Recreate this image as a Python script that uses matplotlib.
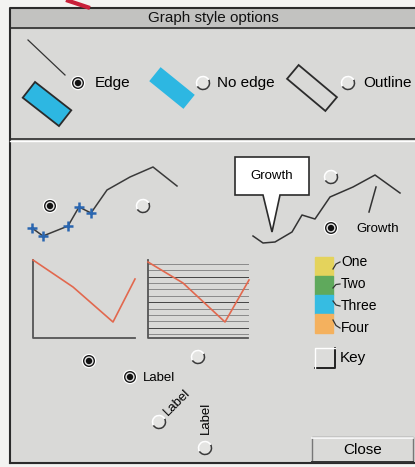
import numpy as np
import matplotlib
matplotlib.use("Agg")
import matplotlib.pyplot as plt
from matplotlib.patches import Rectangle, Polygon, Circle, Arc

plt.rcParams['font.family'] = ['Liberation Sans', 'DejaVu Sans']

# line sample with crosses (pixel coords of the dialog)
cross_x = [32, 43, 68, 79, 91]
cross_y = [228, 236, 226, 207, 213]
line_x = [32, 43, 68, 79, 91, 107, 130, 153, 177]
line_y = [228, 236, 226, 207, 213, 190, 177, 167, 186]

# "Growth" line
growth_x = [253, 263, 275, 292, 302, 315, 330, 353, 375, 400]
growth_y = [236, 243, 242, 232, 215, 219, 197, 187, 175, 193]

# the two small red line charts
red1_x = [33, 73, 113, 135]
red1_y = [260, 287, 322, 279]
red2_x = [148, 183, 225, 249]
red2_y = [262, 283, 322, 280]

key_labels = ['One', 'Two', 'Three', 'Four']
key_colors = ['#e4d35c', '#5fa95c', '#36bce2', '#f4b15e']

W, H = 415, 467
fig = plt.figure(figsize=(W / 100, H / 100), dpi=100)
ax = fig.add_axes([0, 0, 1, 1])
ax.set_xlim(0, W)
ax.set_ylim(H, 0)
ax.axis('off')

BG = '#d9d9d7'
DARK = '#2b2b2b'

# page + window
ax.add_patch(Rectangle((0, 0), W, H, color='#f3f3f1', zorder=0))
ax.add_patch(Rectangle((10, 8), W, 455, color=BG, zorder=0))
ax.add_patch(Rectangle((10, 8), W, 20, color='#c2c2c0', zorder=0))
ax.plot([10, 10, W], [463, 8, 8], color=DARK, lw=1.5)
ax.plot([10, W], [463, 463], color=DARK, lw=1.5)
ax.plot([10, W], [28, 28], color=DARK, lw=1.2)
ax.plot([10, W], [139, 139], color=DARK, lw=1.2)
ax.plot([10, W], [140.5, 140.5], color='white', lw=1)
ax.plot([66, 90], [0, 8], color='#c8203a', lw=3, solid_capstyle='butt')
ax.text(213, 18, 'Graph style options', ha='center', va='center', fontsize=11, color='#111')


def rrect(cx, cy, length, width, ang):
    a = np.radians(ang)
    u = np.array([np.cos(a), np.sin(a)]) * length / 2
    v = np.array([-np.sin(a), np.cos(a)]) * width / 2
    c = np.array([cx, cy])
    return [c - u - v, c + u - v, c + u + v, c - u + v]


def radio(x, y, on):
    if on:
        ax.add_patch(Circle((x, y), 7.2, fc='white', ec='none', zorder=5))
        ax.add_patch(Circle((x, y), 6.0, fc='#1a1a1a', ec='none', zorder=5))
        ax.add_patch(Circle((x, y), 4.6, fc='#e6e6e6', ec='none', zorder=5))
        ax.add_patch(Circle((x, y), 3.2, fc='#111', ec='none', zorder=5))
    else:
        ax.add_patch(Circle((x, y), 6.5, fc='#e4e4e2', ec='none', zorder=5))
        ax.add_patch(Arc((x, y), 13, 13, theta1=-30, theta2=150, color='#3a3a3a', lw=1.1, zorder=6))
        ax.add_patch(Arc((x, y), 13, 13, theta1=150, theta2=330, color='white', lw=1.1, zorder=6))


# top section
ax.plot([28, 65], [40, 75], color='#333', lw=0.9)
ax.add_patch(Polygon(rrect(47, 104, 46, 20, 38), fc='#2db7e2', ec=DARK, lw=1.3))
radio(78, 83, True)
ax.text(95, 83, 'Edge', va='center', fontsize=11)
ax.add_patch(Polygon(rrect(172, 88, 44, 18, 39), fc='#2db7e2', ec='none'))
radio(203, 83, False)
ax.text(217, 83, 'No edge', va='center', fontsize=11)
ax.add_patch(Polygon(rrect(312, 88, 50, 18, 40), fc='none', ec=DARK, lw=1.3))
radio(348, 83, False)
ax.text(363, 83, 'Outline', va='center', fontsize=11)

# line with markers
ax.plot(line_x, line_y, color='#3a3a3a', lw=1.1)
ax.plot(cross_x, cross_y, ls='none', marker='+', ms=6.5, mew=1.8, color='#2a66b0')
radio(50, 206, True)
radio(143, 206, False)

# callout
ax.add_patch(Polygon([(235, 157), (309, 157), (309, 195), (280, 195), (272, 232),
                      (263, 195), (235, 195)], fc='white', ec=DARK, lw=1.2, zorder=3))
ax.text(272, 176, 'Growth', ha='center', va='center', fontsize=9.5, zorder=4)
radio(331, 177, False)
ax.plot(growth_x, growth_y, color='#333', lw=1.1)
ax.plot([376, 369], [187, 212], color='#333', lw=1.1)
radio(331, 228, True)
ax.text(356, 229, 'Growth', va='center', fontsize=9.5)

# small charts
ax.plot([33, 33, 135], [260, 338, 338], color='#555', lw=1.3)
ax.plot(red1_x, red1_y, color='#e2684e', lw=1.2)
for i, gy in enumerate(np.linspace(264, 334, 12)):
    ax.plot([148, 248], [gy, gy], color='#444' if i % 4 == 2 else '#8a8a8a', lw=0.7)
ax.plot([148, 148, 248], [260, 338, 338], color='#555', lw=1.3)
ax.plot(red2_x, red2_y, color='#e2684e', lw=1.2)

# key
kx0, ky0, kh = 315, 257, 19
for i, (lab, col) in enumerate(zip(key_labels, key_colors)):
    top = ky0 + i * kh
    ax.add_patch(Rectangle((kx0, top), 18, kh, color=col))
    ly = 262 + i * 22
    ax.plot([333, 336, 340], [top + 9 + (1 if i < 2 else -1) * 3, (top + 9 + ly) / 2, ly],
            color='#333', lw=0.9)
    ax.text(341, ly, lab, va='center', fontsize=10)

ax.add_patch(Rectangle((315, 348), 20, 20, fc='#dcdcda', ec='none'))
ax.plot([315, 335, 335], [368, 368, 348], color='#222', lw=1.4)
ax.plot([315, 315, 335], [368, 348, 348], color='white', lw=1)
ax.text(340, 358, 'Key', va='center', fontsize=11)

# label placement radios
radio(89, 361, True)
radio(130, 377, True)
ax.text(143, 378, 'Label', va='center', fontsize=9.5)
radio(198, 357, False)
radio(159, 422, False)
ax.text(177, 402, 'Label', ha='center', va='center', rotation=45, fontsize=9.5)
radio(205, 448, False)
ax.text(206, 418, 'Label', ha='center', va='center', rotation=90, fontsize=9.5)

# close button
ax.add_patch(Rectangle((312, 437), 101, 25, fc='#dadad8', ec='#777', lw=1))
ax.plot([312, 413], [437.5, 437.5], color='white', lw=1.2)
ax.plot([312, 413], [461.5, 461.5], color='#333', lw=1.4)
ax.text(363, 450, 'Close', ha='center', va='center', fontsize=11)

fig.savefig('out.png', dpi=100)
